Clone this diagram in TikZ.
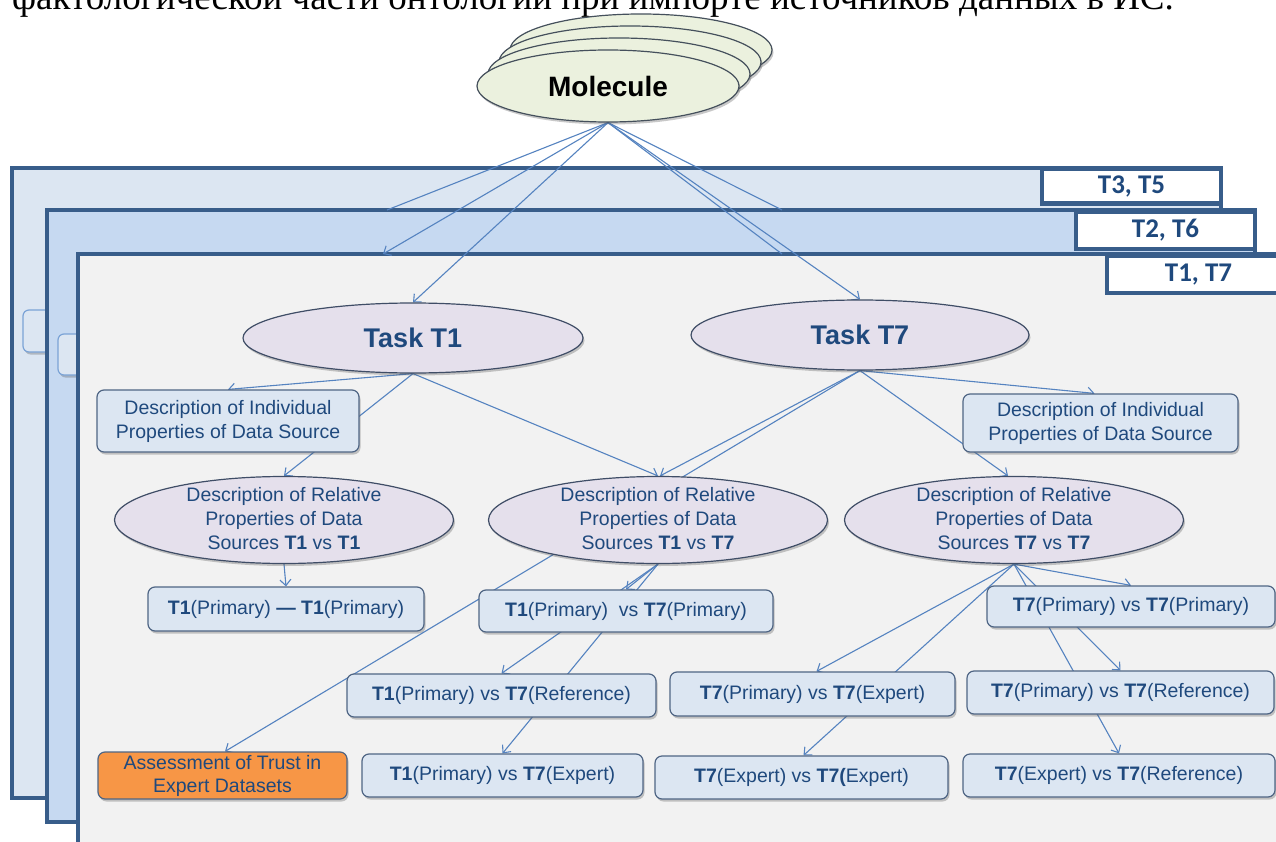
\documentclass[tikz,border=0pt]{standalone}
\usepackage{fontspec}
\setmainfont{Liberation Sans}
\newfontfamily\serifru{Liberation Serif}
\newfontfamily\calib{Carlito}
\usetikzlibrary{shapes.geometric,arrows.meta,shadows}
\pgfdeclarelayer{bg}
\pgfdeclarelayer{lns}
\pgfsetlayers{bg,lns,main}
\definecolor{frmA}{HTML}{DCE6F2}
\definecolor{frmB}{HTML}{C6D9F1}
\definecolor{frmC}{HTML}{F2F2F2}
\definecolor{frmline}{HTML}{385D8A}
\definecolor{txt}{HTML}{1F497D}
\definecolor{boxfill}{HTML}{DCE6F2}
\definecolor{boxline}{HTML}{4F6584}
\definecolor{ellfill}{HTML}{E5E0EC}
\definecolor{ellline}{HTML}{3F4D66}
\definecolor{molfill}{HTML}{EBF1DE}
\definecolor{molline}{HTML}{45505C}
\definecolor{connc}{HTML}{5583C0}
\definecolor{orng}{HTML}{F79646}
\definecolor{tabline}{HTML}{7BA3D6}
\newcommand{\rellines}[1]{\smash{\raisebox{-6pt}{\begin{tabular}{@{}c@{}}Description of Relative\\Properties of Data\\#1\end{tabular}}}}
\begin{document}
\begin{tikzpicture}[x=1pt,y=-1pt,
  shd/.style={drop shadow={shadow xshift=1.5pt,shadow yshift=-2.5pt,opacity=0.3,fill=black!70}},
  frame/.style={draw=frmline,line width=4.5pt},
  lbl/.style={draw=frmline,line width=4.5pt,fill=white,font=\calib\bfseries\fontsize{27}{30}\selectfont,text=txt,inner sep=0pt},
  tabbox/.style={draw=tabline,line width=1.2pt,fill=frmA,rounded corners=6pt,shd},
  molell/.style={ellipse,draw=molline,line width=1.2pt,fill=molfill,minimum width=262pt,minimum height=72pt,inner sep=0pt,shd},
  taskell/.style={ellipse,draw=ellline,line width=1.2pt,fill=ellfill,minimum width=340pt,minimum height=70pt,inner sep=0pt,font=\bfseries\fontsize{27}{30}\selectfont,text=txt,shd},
  relell/.style={ellipse,draw=ellline,line width=1.2pt,fill=ellfill,minimum width=339pt,minimum height=87pt,inner sep=0pt,font=\fontsize{19.5}{24}\selectfont,text=txt,shd},
  rbox/.style={rectangle,rounded corners=7pt,draw=boxline,line width=1.2pt,fill=boxfill,font=\fontsize{19.5}{24}\selectfont,text=txt,align=center,inner sep=2pt,shd},
  conn/.style={draw=connc,line width=1.1pt},
  arr/.style={conn,-{Straight Barb[length=6pt,width=11pt]}}
]
\useasboundingbox (0,0) rectangle (1276,842);
\begin{pgfonlayer}{bg}
\fill[white] (0,0) rectangle (1276,842);
\draw[frame,fill=frmA] (12,168) rectangle (1221,798);
\node[lbl,minimum width=179pt,minimum height=35pt] (lA) at (1131.5,186) {T3, T5};
\draw[tabbox] (23,310) rectangle (75,352);
\draw[frame,fill=frmB] (47,210) rectangle (1255,822);
\node[lbl,minimum width=179pt,minimum height=37pt] (lB) at (1165.5,230.5) {T2, T6};
\draw[tabbox] (58,334) rectangle (100,375);
\draw[frame,fill=frmC] (78,254) rectangle (1310,880);
\node[lbl,minimum width=183pt,minimum height=37pt] (lC) at (1198.5,274.5) {T1, T7};
\end{pgfonlayer}

\node[anchor=base west,font=\serifru\fontsize{37}{40}\selectfont,inner sep=0pt] (hdr) at (12,10) {фактологической части онтологии при импорте источников данных в ИС.};

% molecule stack
\node[molell] (mol3) at (641,50) {};
\node[molell] (mol2) at (630,62) {};
\node[molell] (mol1) at (619,74) {};
\node[molell,font=\bfseries\fontsize{28}{30}\selectfont] (mol) at (608,86) {Molecule};

\coordinate (fB1) at (387,210);
\coordinate (fC1) at (383,254);
\coordinate (fB2) at (782,210);
\coordinate (fC2) at (782,254);

% tasks
\node[taskell] (T1) at (413,338) {Task T1};
\node[taskell,minimum width=338pt] (T7) at (860,335) {Task T7};

% individual properties
\node[rbox,minimum width=262pt,minimum height=62pt] (DL) at (228,421) {Description of Individual\\Properties of Data Source};
\node[rbox,minimum width=275pt,minimum height=58pt] (DR) at (1100.5,423) {Description of Individual\\Properties of Data Source};

% relative properties
\node[relell] (RelL) at (284,520) {\rellines{Sources \textbf{T1} vs \textbf{T1}}};
\node[relell] (RelM) at (658,520) {\rellines{Sources \textbf{T1} vs \textbf{T7}}};
\node[relell] (RelR) at (1014,520) {\rellines{Sources \textbf{T7} vs \textbf{T7}}};

% pair boxes
\node[rbox,minimum width=276pt,minimum height=44pt] (B1) at (286,609) {\textbf{T1}(Primary) \textbf{—} \textbf{T1}(Primary)};
\node[rbox,minimum width=294pt,minimum height=42pt] (B2) at (626,611) {\textbf{T1}(Primary)~ vs \textbf{T7}(Primary)};
\node[rbox,minimum width=288pt,minimum height=41pt] (B3) at (1131,606.5) {\textbf{T7}(Primary) vs \textbf{T7}(Primary)};
\node[rbox,minimum width=309pt,minimum height=43pt] (B4) at (501.5,695.5) {\textbf{T1}(Primary) vs \textbf{T7}(Reference)};
\node[rbox,minimum width=285pt,minimum height=44pt] (B5) at (812.5,694) {\textbf{T7}(Primary) vs \textbf{T7}(Expert)};
\node[rbox,minimum width=307pt,minimum height=43pt] (B6) at (1120.5,692.5) {\textbf{T7}(Primary) vs \textbf{T7}(Reference)};
\node[rbox,fill=orng,minimum width=249pt,minimum height=47pt,font=\fontsize{19.5}{23}\selectfont] (OR) at (222.5,775.5) {Assessment of Trust in\\Expert Datasets};
\node[rbox,minimum width=281pt,minimum height=43pt] (B7) at (502.5,775.5) {\textbf{T1}(Primary) vs \textbf{T7}(Expert)};
\node[rbox,minimum width=293pt,minimum height=43pt] (B8) at (801.5,777.5) {\textbf{T7}(Expert) vs \textbf{T7(}Expert)};
\node[rbox,minimum width=312pt,minimum height=43pt] (B9) at (1119,775.5) {\textbf{T7}(Expert) vs \textbf{T7}(Reference)};

\begin{pgfonlayer}{lns}
% from molecule
\draw[conn] (mol.south) -- (fB1);
\draw[arr] (mol.south) -- (fC1);
\draw[arr] (mol.south) -- (T1.north);
\draw[conn] (mol.south) -- (fB2);
\draw[conn] (mol.south) -- (fC2);
\draw[arr] (mol.south) -- (T7.north);
% from task T1
\draw[arr] (T1.south) -- (DL.north);
\draw[arr] (T1.south) -- (RelL.north);
\draw[arr] (T1.south) -- (RelM.north);
% from task T7
\draw[arr] (T7.south) -- ([xshift=2pt]RelM.north);
\draw[arr] (T7.south) -- ([xshift=2.5pt]OR.north);
\draw[arr] (T7.south) -- ([xshift=-6pt]DR.north);
\draw[arr] (T7.south) -- ([xshift=-6pt]RelR.north);
% from relative ellipses
\draw[arr] (RelL.south) -- (B1.north);
\draw[arr] (RelM.south) -- (B2.north);
\draw[arr] (RelM.south) -- (B4.north);
\draw[arr] (RelM.south) -- (B7.north);
\draw[arr] (RelR.south) -- (B3.north);
\draw[arr] (RelR.south) -- ([xshift=4pt]B5.north);
\draw[arr] (RelR.south) -- ([xshift=2pt]B8.north);
\draw[arr] (RelR.south) -- (B6.north);
\draw[arr] (RelR.south) -- (B9.north);
\end{pgfonlayer}
\end{tikzpicture}
\end{document}
